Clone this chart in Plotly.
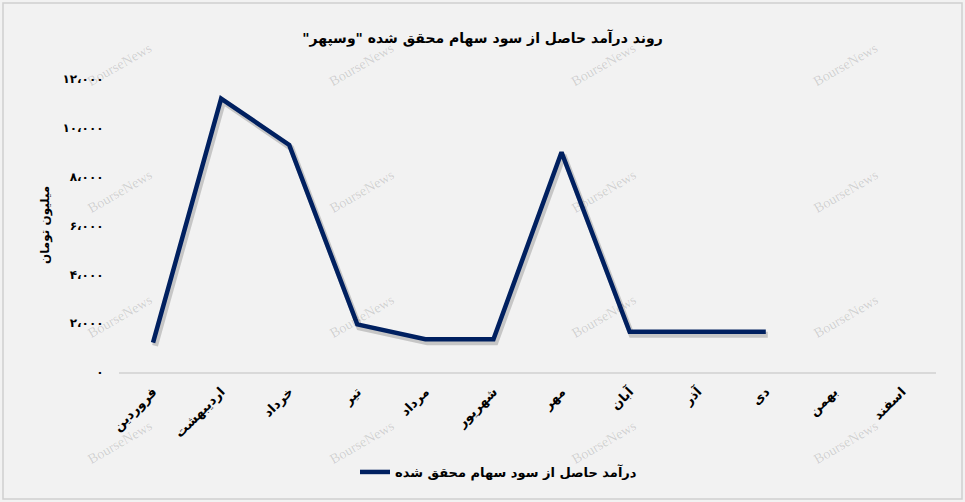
import plotly.graph_objects as go

W, H = 965, 502
ML, MR, MT, MB = 119, 29, 79, 130

months = ["فروردین", "اردیبهشت", "خرداد", "تیر", "مرداد", "شهریور",
          "مهر", "آبان", "آذر", "دی", "بهمن", "اسفند"]
income = [1200, 11200, 9300, 1950, 1340, 1340, 9000, 1650, 1650, 1650, None, None]
series_name = "درآمد حاصل از سود سهام محقق شده"
title_text = 'روند درآمد حاصل از سود سهام محقق شده "وسپهر"'
y_title = "میلیون تومان"
y_tickvals = [0, 2000, 4000, 6000, 8000, 10000, 12000]
y_ticktext = ["۰", "۲،۰۰۰", "۴،۰۰۰", "۶،۰۰۰", "۸،۰۰۰", "۱۰،۰۰۰", "۱۲،۰۰۰"]

PW = W - ML - MR
PH = H - MT - MB

def px_x(x):
    return (x - ML) / PW

def px_y(y):
    return (H - MB - y) / PH

FONT = "DejaVu Sans"
RLM = "\u200f"

# shadow offset (pixels) converted to axis units
SX, SY = 2.0, 3.0
dx = SX / PW * 12
dy = SY / PH * 12000

fig = go.Figure()
# base trace (invisible) so that the main axes are drawn
fig.add_trace(go.Scatter(
    x=months, y=income, mode="lines", xaxis="x", yaxis="y", showlegend=False,
    line=dict(color="rgba(0,0,0,0)", width=0), hoverinfo="skip",
))
fig.add_trace(go.Scatter(
    x=months, y=income, mode="lines", xaxis="x2", yaxis="y2", showlegend=False,
    line=dict(color="rgba(0,0,0,0.18)", width=6), hoverinfo="skip",
))
fig.add_trace(go.Scatter(
    x=months, y=income, mode="lines", xaxis="x3", yaxis="y3",
    name="<b>" + series_name + "</b>",
    line=dict(color="#002060", width=4.5),
))

annotations = []
for cx in [120, 362, 604, 846]:
    for cy in [65, 191, 316, 442]:
        annotations.append(dict(
            x=px_x(cx), y=px_y(cy), xref="paper", yref="paper",
            xanchor="center", yanchor="middle",
            text="BourseNews", showarrow=False, textangle=-30,
            font=dict(family="Liberation Serif", size=14, color="rgba(0,0,0,0.15)"),
        ))
annotations.append(dict(
    x=px_x(45), y=px_y(225), xref="paper", yref="paper",
    xanchor="center", yanchor="middle",
    text="<b>" + y_title + "</b>", showarrow=False, textangle=-90,
    font=dict(family=FONT, size=12, color="#000000"),
))

hidden = dict(visible=False, showgrid=False, zeroline=False)
fig.update_layout(
    width=W, height=H,
    margin=dict(l=ML, r=MR, t=MT, b=MB),
    paper_bgcolor="#f2f2f2", plot_bgcolor="#f2f2f2",
    title=dict(text="<b>" + RLM + title_text + RLM + "</b>", x=0.5, xref="container",
               y=1 - 38 / H, yref="container", xanchor="center", yanchor="middle",
               font=dict(family=FONT, size=14, color="#000000")),
    showlegend=True,
    legend=dict(orientation="h", x=px_x(355), xanchor="left", y=px_y(472), yanchor="middle",
                font=dict(family=FONT, size=13, color="#000000"),
                bgcolor="rgba(0,0,0,0)"),
    annotations=annotations,
    shapes=[dict(type="rect", xref="paper", yref="paper",
                 x0=px_x(3), x1=px_x(W - 3), y0=px_y(H - 3), y1=px_y(3),
                 line=dict(color="#d0d0d0", width=1.5), layer="below")],
    xaxis2=dict(hidden, type="category", categoryarray=months, overlaying="x",
                range=[-0.5 - dx, 11.5 - dx]),
    yaxis2=dict(hidden, overlaying="y", range=[0 + dy, 12000 + dy]),
    xaxis3=dict(hidden, type="category", categoryarray=months, overlaying="x",
                range=[-0.5, 11.5]),
    yaxis3=dict(hidden, overlaying="y", range=[0, 12000]),
)
fig.update_layout(xaxis=dict(
    type="category", range=[-0.5, 11.5], showgrid=False, zeroline=False,
    categoryarray=months,
    showline=True, linecolor="#d9d9d9", linewidth=2,
    tickangle=-45, ticks="outside", ticklen=5, tickcolor="rgba(0,0,0,0)",
    tickfont=dict(family=FONT, size=13, color="#000000"),
    tickvals=months, ticktext=["<b>" + m + "</b>" for m in months],
))
fig.update_layout(yaxis=dict(
    range=[0, 12000], showgrid=False, zeroline=False, showline=False,
    tickvals=y_tickvals, ticktext=["<b>" + t + "</b>" for t in y_ticktext],
    ticks="outside", ticklen=12, tickcolor="rgba(0,0,0,0)",
    tickfont=dict(family=FONT, size=12, color="#000000"),
))
fig.write_html("out.html", config={"displayModeBar": False},
               post_script="document.body.style.margin='0';document.body.style.background='#ffffff';")
